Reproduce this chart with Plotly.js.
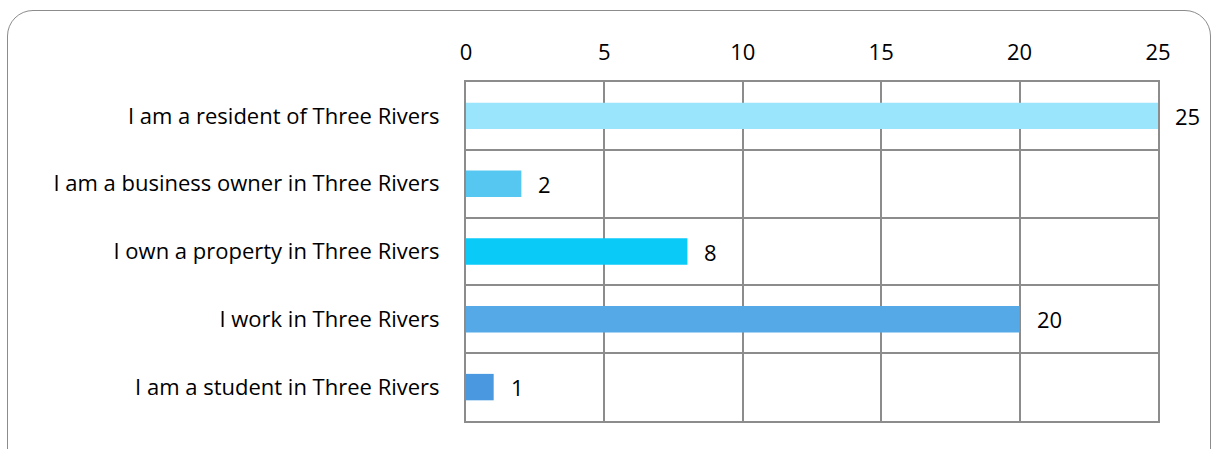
<!DOCTYPE html>
<html>
<head>
<meta charset="utf-8">
<script src="https://cdn.plot.ly/plotly-3.0.1.min.js"></script>
<style>
html,body{margin:0;padding:0;background:#fff;overflow:hidden;}
#chart{position:absolute;left:0;top:0;width:1219px;height:449px;}
#frame{position:absolute;left:7px;top:10px;width:1202px;height:470px;border:1px solid #8c8c8c;border-radius:26px;pointer-events:none;}
</style>
</head>
<body>
<div id="chart"></div>
<div id="frame"></div>
<script>
var categories = [
  "I am a resident of Three Rivers",
  "I am a business owner in Three Rivers",
  "I own a property in Three Rivers",
  "I work in Three Rivers",
  "I am a student in Three Rivers"
];
var values = [25, 2, 8, 20, 1];
var barColors = ["#9AE4FC", "#56C7F0", "#0ACAF8", "#54A9E6", "#4A99E0"];
var xTicks = [0, 5, 10, 15, 20, 25];

var font = "'Open Sans', sans-serif";
var fsize = 22;

var trace = {
  type: "bar",
  orientation: "h",
  x: values,
  y: categories,
  marker: {color: barColors, line: {width: 0}},
  width: 0.39,
  hoverinfo: "none"
};

var annotations = values.map(function(v, i){
  return {
    x: v, y: categories[i], xref: "x", yref: "y",
    text: String(v), showarrow: false, xanchor: "left", xshift: 15,
    font: {family: font, size: fsize, color: "#000"}
  };
});

var layout = {
  width: 1219, height: 449,
  margin: {l: 466, r: 61, t: 82, b: 28, pad: 0},
  paper_bgcolor: "rgba(0,0,0,0)",
  plot_bgcolor: "#fff",
  showlegend: false,
  font: {family: font, size: fsize, color: "#000"},
  xaxis: {
    side: "top",
    range: [0, 25],
    tickvals: xTicks,
    ticktext: xTicks.map(String),
    showgrid: true, gridcolor: "#8c8c8c", gridwidth: 2,
    showline: true, linecolor: "#8c8c8c", linewidth: 2, mirror: true,
    zeroline: false,
    ticks: "", ticklabelstandoff: 11,
    tickfont: {family: font, size: fsize, color: "#000"},
    fixedrange: true
  },
  yaxis: {
    type: "category",
    autorange: "reversed",
    tickson: "boundaries",
    showgrid: true, gridcolor: "#8c8c8c", gridwidth: 2,
    showline: true, linecolor: "#8c8c8c", linewidth: 2, mirror: true,
    ticks: "", ticklabelstandoff: 20,
    tickfont: {family: font, size: fsize, color: "#000"},
    fixedrange: true
  },
  annotations: annotations
};

Plotly.newPlot("chart", [trace], layout, {displayModeBar: false, staticPlot: true});
</script>
</body>
</html>
